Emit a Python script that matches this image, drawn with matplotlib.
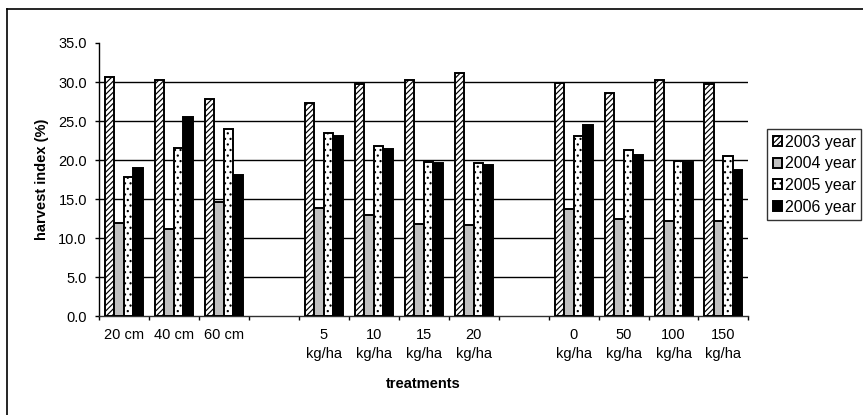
import matplotlib.pyplot as plt
from matplotlib.lines import Line2D
import numpy as np

plt.rcParams['font.family'] = ['Liberation Sans', 'DejaVu Sans']
plt.rcParams['hatch.linewidth'] = 0.85

# treatments (blank entries are spacers between the three treatment groups)
treatments = ['20 cm', '40 cm', '60 cm', '',
              '5\nkg/ha', '10\nkg/ha', '15\nkg/ha', '20\nkg/ha', '',
              '0\nkg/ha', '50\nkg/ha', '100\nkg/ha', '150\nkg/ha']
years = ['2003 year', '2004 year', '2005 year', '2006 year']

hi_2003 = [30.7, 30.2, 27.8, None, 27.3, 29.7, 30.3, 31.1, None, 29.9, 28.6, 30.2, 29.7]
hi_2004 = [12.0, 11.2, 14.6, None, 13.9, 13.0, 11.8, 11.7, None, 13.7, 12.4, 12.2, 12.2]
hi_2005 = [17.9, 21.5, 24.0, None, 23.5, 21.8, 19.7, 19.6, None, 23.1, 21.3, 19.9, 20.5]
hi_2006 = [19.0, 25.5, 18.1, None, 23.1, 21.4, 19.6, 19.4, None, 24.5, 20.6, 19.7, 18.8]

series = [hi_2003, hi_2004, hi_2005, hi_2006]
faces = ['white', '#c0c0c0', 'white', 'black']
hatches = ['//////', None, '...', None]

fig = plt.figure(figsize=(8.63, 4.15), dpi=100)
ax = fig.add_axes([0.1144, 0.2378, 0.7529, 0.6586])

x = np.arange(len(treatments))
w = 0.19
for k, (vals, fc, h, lab) in enumerate(zip(series, faces, hatches, years)):
    idx = [i for i, v in enumerate(vals) if v is not None]
    hv = [vals[i] for i in idx]
    ax.bar(x[idx] + (k - 1.5) * w, hv, width=w, color=fc, edgecolor='black',
           linewidth=1.4, hatch=h, label=lab, zorder=3)

ax.set_xlim(-0.5, len(treatments) - 0.5)
ax.set_ylim(0, 35)
ax.set_yticks(np.arange(0, 35.1, 5))
ax.set_yticklabels(['%.1f' % v for v in np.arange(0, 35.1, 5)])
ax.set_xticks(x)
ax.set_xticklabels(treatments, linespacing=1.4)
ax.set_xticks(np.arange(-0.5, len(treatments), 1), minor=True)
ax.tick_params(axis='x', which='major', length=0, pad=8.5, labelsize=10.5)
ax.tick_params(axis='x', which='minor', length=3, width=1, direction='out')
ax.tick_params(axis='y', length=3, width=1, pad=5.5, labelsize=10.5)

for y in range(5, 31, 5):
    ax.axhline(y, color='black', linewidth=1, zorder=1)

for s in ['top', 'right']:
    ax.spines[s].set_visible(False)
ax.spines['left'].set_linewidth(1)
ax.spines['bottom'].set_linewidth(1)
ax.spines['bottom'].set_color('#303030')

ax.set_xlabel('treatments', fontsize=10.5, fontweight='bold')
ax.set_ylabel('harvest index (%)', fontsize=10.5, fontweight='bold')
ax.xaxis.set_label_coords(0.5, -0.248)
ax.xaxis.label.set_va('center')
ax.yaxis.set_label_coords(-0.087, 0.5)
ax.yaxis.label.set_va('center')

leg = ax.legend(loc='upper left', bbox_to_anchor=(767 / 863, 1 - 129 / 415),
                bbox_transform=fig.transFigure, fontsize=11.5, frameon=True,
                fancybox=False, borderaxespad=0, handlelength=0.6,
                handleheight=0.6, handletextpad=0.15, labelspacing=0.42,
                borderpad=0.35)
leg.get_frame().set_edgecolor('black')
leg.get_frame().set_linewidth(1)

# outer chart frame
fig.add_artist(Line2D([7 / 863, 7 / 863], [0, 1 - 9 / 415], color='black', lw=1.2))
fig.add_artist(Line2D([7 / 863, 1], [1 - 9 / 415, 1 - 9 / 415], color='black', lw=1.2))

fig.savefig('out.png', dpi=100)
